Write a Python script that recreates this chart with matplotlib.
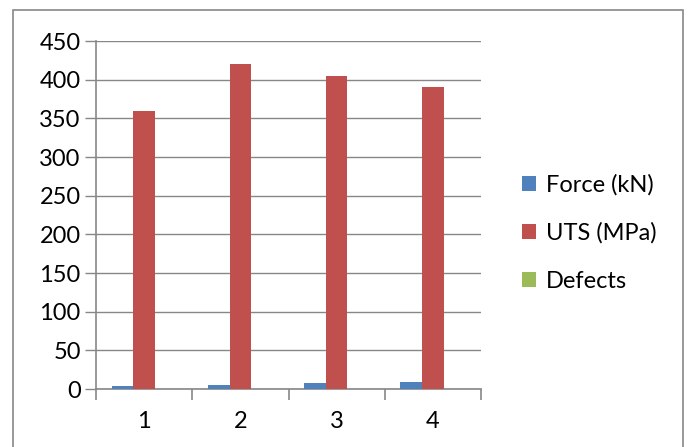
import matplotlib
matplotlib.use("Agg")
import matplotlib.pyplot as plt
import numpy as np
from matplotlib.patches import Rectangle

categories = ["1", "2", "3", "4"]
force_kn = [4, 5.5, 7.5, 9.5]
uts_mpa = [360, 420, 405, 390]
defects = [0, 0, 0, 0]
series_names = ["Force (kN)", "UTS (MPa)", "Defects"]
colors = ["#4F81BD", "#C0504D", "#9BBB59"]

plt.rcParams['font.family'] = ['Lato', 'DejaVu Sans']
fig = plt.figure(figsize=(6.89, 4.47), dpi=100)
ax = fig.add_axes([96/689, 1-389/447, (481-96)/689, (389-41)/447])

x = np.arange(len(categories))
w = 0.225
for i, (vals, name, c) in enumerate(zip([force_kn, uts_mpa, defects], series_names, colors)):
    ax.bar(x + (i-1)*w, vals, w, color=c, label=name, zorder=3)

ax.set_xlim(-0.5, len(categories)-0.5)
ax.set_ylim(0, 450)
ax.set_yticks(np.arange(0, 451, 50))
ax.set_xticks(x)
ax.set_xticklabels(categories)
ax.set_xticks(np.arange(-0.5, len(categories), 1), minor=True)
gc = "#878787"
ax.yaxis.grid(True, color=gc, linewidth=1, zorder=0)
for s in ["top", "right"]:
    ax.spines[s].set_visible(False)
for s in ["left", "bottom"]:
    ax.spines[s].set_color(gc)
    ax.spines[s].set_linewidth(1.2)
ax.tick_params(axis='y', length=8, color=gc, width=1, labelsize=17, pad=3)
ax.tick_params(axis='x', which='major', length=0, labelsize=17, pad=16)
ax.tick_params(axis='x', which='minor', length=8, color=gc, width=1.2)

ax.legend(loc='center left', bbox_to_anchor=(501/689, 1-233/447), bbox_transform=fig.transFigure,
          frameon=False, fontsize=17, handlelength=0.6, handleheight=0.6,
          labelspacing=1.15, handletextpad=0.4)

fig.patches.append(Rectangle((13/689, -0.1), (683-13)/689, 1.1-10/447, transform=fig.transFigure,
                             fill=False, edgecolor=gc, linewidth=1.2))
fig.savefig("out.png", dpi=100)
